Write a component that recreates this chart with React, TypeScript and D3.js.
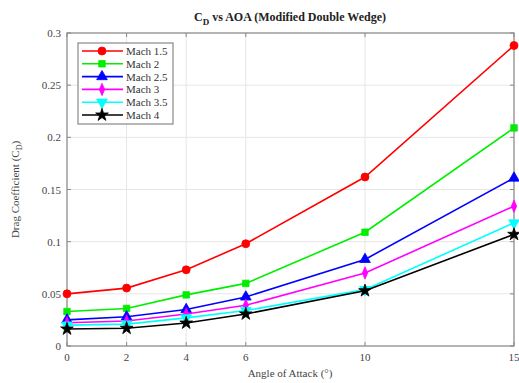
import React from "react";
import * as d3 from "d3";

const aoa = [0, 2, 4, 6, 10, 15];
const yTicks = [0, 0.05, 0.1, 0.15, 0.2, 0.25, 0.3];

const mach15 = [0.05, 0.0555, 0.073, 0.098, 0.162, 0.288];
const mach2 = [0.033, 0.036, 0.049, 0.06, 0.109, 0.209];
const mach25 = [0.025, 0.028, 0.035, 0.047, 0.083, 0.161];
const mach3 = [0.0223, 0.024, 0.0307, 0.039, 0.07, 0.134];
const mach35 = [0.02, 0.021, 0.027, 0.034, 0.054, 0.118];
const mach4 = [0.0163, 0.017, 0.022, 0.0307, 0.053, 0.107];

const seriesNames = ["Mach 1.5", "Mach 2", "Mach 2.5", "Mach 3", "Mach 3.5", "Mach 4"];
const seriesValues = [mach15, mach2, mach25, mach3, mach35, mach4];
const seriesColors = ["#ff0000", "#00ee00", "#0000ff", "#ff00ff", "#00ffff", "#000000"];
const seriesSymbols = [
  d3.symbolCircle,
  d3.symbolSquare,
  d3.symbolTriangle,
  d3.symbolDiamond,
  d3.symbolTriangle,
  d3.symbolStar,
];

const font = "'Liberation Serif', 'DejaVu Serif', serif";

const Marker = ({ i, x, y }: { i: number; x: number; y: number }) => {
  const size = [50, 42, 50, 45, 50, 50][i];
  const path = d3.symbol(seriesSymbols[i], size)() as string;
  const rot = i === 4 ? 180 : 0;
  const sx = i === 3 ? 0.75 : 1;
  return (
    <path
      d={path}
      transform={`translate(${x},${y}) rotate(${rot}) scale(${sx},1)`}
      fill={seriesColors[i]}
      stroke={seriesColors[i]}
      strokeWidth={0.8}
    />
  );
};

export default function App() {
  const width = 519;
  const height = 383;
  const left = 67;
  const right = 514;
  const top = 33;
  const bottom = 346;

  const x = d3.scaleLinear().domain([0, 15]).range([left, right]);
  const y = d3.scaleLinear().domain([0, 0.3]).range([bottom, top]);

  const line = d3
    .line<number>()
    .x((_, i) => x(aoa[i]))
    .y((v) => y(v));

  const legX = 78;
  const legY = 43;
  const rowH = 12.8;

  return (
    <svg
      width={width}
      height={height}
      style={{ position: "absolute", left: 0, top: 0, background: "#fff" }}
    >
      {/* grid */}
      <g stroke="#e6e6e6" strokeWidth={1}>
        {aoa.map((t) => (
          <line key={t} x1={x(t)} x2={x(t)} y1={top} y2={bottom} />
        ))}
        {yTicks.map((t) => (
          <line key={t} x1={left} x2={right} y1={y(t)} y2={y(t)} />
        ))}
      </g>
      {/* ticks */}
      <g stroke="#888" strokeWidth={1}>
        {aoa.map((t) => (
          <g key={t}>
            <line x1={x(t)} x2={x(t)} y1={bottom} y2={bottom - 4} />
            <line x1={x(t)} x2={x(t)} y1={top} y2={top + 4} />
          </g>
        ))}
        {yTicks.map((t) => (
          <g key={t}>
            <line x1={left} x2={left + 4} y1={y(t)} y2={y(t)} />
            <line x1={right} x2={right - 4} y1={y(t)} y2={y(t)} />
          </g>
        ))}
      </g>
      <rect
        x={left}
        y={top}
        width={right - left}
        height={bottom - top}
        fill="none"
        stroke="#8a8a8a"
        strokeWidth={1.2}
      />
      {/* tick labels */}
      <g fontFamily={font} fontSize={11} fill="#444">
        {aoa.map((t) => (
          <text key={t} x={x(t)} y={bottom + 15} textAnchor="middle">
            {t}
          </text>
        ))}
        {yTicks.map((t) => (
          <text key={t} x={left - 6} y={y(t) + 4} textAnchor="end">
            {t === 0 ? "0" : String(t)}
          </text>
        ))}
      </g>
      {/* series */}
      {seriesValues.map((vals, i) => (
        <g key={i}>
          <path d={line(vals) as string} fill="none" stroke={seriesColors[i]} strokeWidth={1.6} />
          {vals.map((v, j) => (
            <Marker key={j} i={i} x={x(aoa[j])} y={y(v)} />
          ))}
        </g>
      ))}
      {/* legend */}
      <rect
        x={legX}
        y={legY}
        width={95}
        height={81}
        fill="#fff"
        stroke="#888"
        strokeWidth={1.2}
      />
      {seriesNames.map((name, i) => {
        const ry = legY + 8 + i * rowH;
        return (
          <g key={name}>
            <line x1={82} x2={123} y1={ry} y2={ry} stroke={seriesColors[i]} strokeWidth={1.6} />
            <Marker i={i} x={102} y={ry} />
            <text x={126} y={ry + 4} fontFamily={font} fontSize={11} fill="#333">
              {name}
            </text>
          </g>
        );
      })}
      {/* title */}
      <text
        x={290}
        y={21}
        textAnchor="middle"
        fontFamily={font}
        fontSize={12}
        fontWeight="bold"
        fill="#222"
      >
        C<tspan fontSize={9} dy={4}>D</tspan>
        <tspan dy={-4}> vs AOA (Modified Double Wedge)</tspan>
      </text>
      {/* axis labels */}
      <text
        x={290}
        y={377}
        textAnchor="middle"
        fontFamily={font}
        fontSize={11}
        fill="#444"
      >
        Angle of Attack (°)
      </text>
      <text
        transform={`translate(19,${(top + bottom) / 2}) rotate(-90)`}
        textAnchor="middle"
        fontFamily={font}
        fontSize={11}
        fill="#444"
      >
        Drag Coefficient (C<tspan fontSize={8} dy={3}>D</tspan>
        <tspan dy={-3}>)</tspan>
      </text>
    </svg>
  );
}
